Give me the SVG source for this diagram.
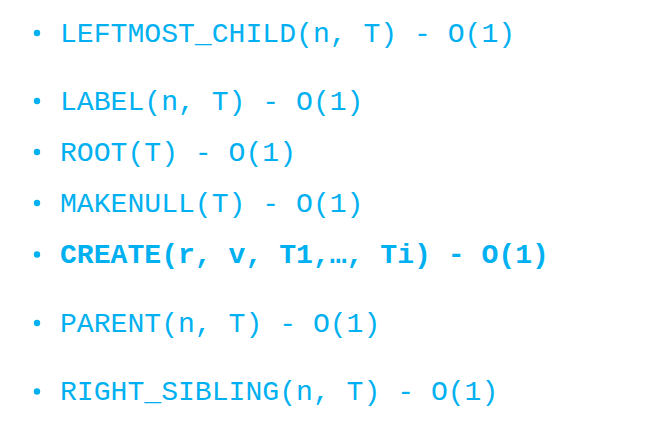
<svg xmlns="http://www.w3.org/2000/svg" width="660" height="436" viewBox="0 0 660 436">
<style>
.t{font-family:"Liberation Mono","Courier New",monospace;font-size:28.1px;fill:#00B0F0}
.b{font-weight:bold}
.d{fill:#00B0F0}
</style>
<rect width="660" height="436" fill="#ffffff"/>
<g id="item1"><circle class="d" cx="37" cy="33" r="3.2"/><text class="t" x="60" y="41.5" xml:space="preserve">LEFTMOST_CHILD(n, T) - O(1)</text></g>
<g id="item2"><circle class="d" cx="37" cy="101" r="3.2"/><text class="t" x="60" y="109.5" xml:space="preserve">LABEL(n, T) - O(1)</text></g>
<g id="item3"><circle class="d" cx="37" cy="152" r="3.2"/><text class="t" x="60" y="160.5" xml:space="preserve">ROOT(T) - O(1)</text></g>
<g id="item4"><circle class="d" cx="37" cy="203" r="3.2"/><text class="t" x="60" y="211.5" xml:space="preserve">MAKENULL(T) - O(1)</text></g>
<g id="item5"><circle class="d" cx="37" cy="254.5" r="3.2"/><text class="t b" x="60" y="263" xml:space="preserve">CREATE(r, v, T1,…, Ti) - O(1)</text></g>
<g id="item6"><circle class="d" cx="37" cy="323" r="3.2"/><text class="t" x="60" y="331.5" xml:space="preserve">PARENT(n, T) - O(1)</text></g>
<g id="item7"><circle class="d" cx="37" cy="391.5" r="3.2"/><text class="t" x="60" y="400" xml:space="preserve">RIGHT_SIBLING(n, T) - O(1)</text></g>
</svg>
